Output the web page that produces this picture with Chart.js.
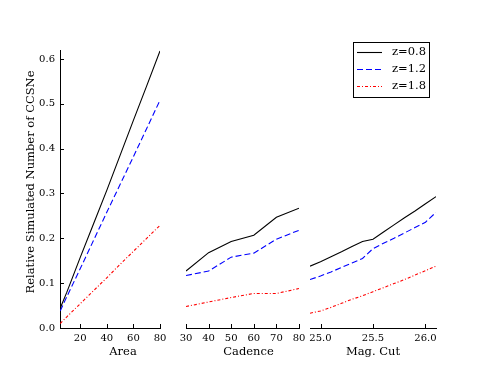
<!DOCTYPE html>
<html>
<head>
<meta charset="utf-8">
<script src="https://cdn.jsdelivr.net/npm/chart.js@4.4.1/dist/chart.umd.min.js"></script>
<style>
  html, body { margin: 0; padding: 0; background: #fff; }
  #wrap { position: relative; width: 484px; height: 366px; overflow: hidden; background: #fff; }
  #wrap canvas { position: absolute; top: 0; }
</style>
</head>
<body>
<div id="wrap">
  <canvas id="area" width="175" height="366" style="left:0px;width:175px;height:366px"></canvas>
  <canvas id="cadence" width="145" height="366" style="left:170px;width:145px;height:366px"></canvas>
  <canvas id="mag" width="189" height="366" style="left:295px;width:189px;height:366px"></canvas>
</div>
<script>
// Series labels
const seriesLabels = ['z=0.8', 'z=1.2', 'z=1.8'];

// Area panel
const areaX = [5, 10, 20, 30, 40, 50, 60, 70, 80];
const areaZ08 = [0.044, 0.080, 0.157, 0.232, 0.307, 0.385, 0.463, 0.540, 0.618];
const areaZ12 = [0.038, 0.070, 0.132, 0.195, 0.258, 0.320, 0.382, 0.445, 0.508];
const areaZ18 = [0.010, 0.025, 0.054, 0.083, 0.112, 0.142, 0.171, 0.200, 0.229];

// Cadence panel
const cadenceX = [30, 40, 50, 60, 70, 80];
const cadenceZ08 = [0.127, 0.168, 0.193, 0.207, 0.247, 0.267];
const cadenceZ12 = [0.117, 0.127, 0.158, 0.167, 0.198, 0.218];
const cadenceZ18 = [0.048, 0.058, 0.068, 0.077, 0.077, 0.088];

// Mag. Cut panel
const magX = [24.9, 25.0, 25.1, 25.2, 25.3, 25.4, 25.5, 25.6, 25.7, 25.8, 25.9, 26.0, 26.1];
const magZ08 = [0.138, 0.148, 0.159, 0.170, 0.182, 0.193, 0.198, 0.214, 0.230, 0.246, 0.261, 0.277, 0.293];
const magZ12 = [0.108, 0.116, 0.125, 0.135, 0.145, 0.155, 0.177, 0.189, 0.200, 0.212, 0.224, 0.236, 0.258];
const magZ18 = [0.033, 0.038, 0.046, 0.055, 0.064, 0.072, 0.081, 0.090, 0.099, 0.108, 0.118, 0.128, 0.138];

// Tick labels
const yTicks = [0.0, 0.1, 0.2, 0.3, 0.4, 0.5, 0.6];
const areaTicks = [20, 40, 60, 80];
const cadenceTicks = [30, 40, 50, 60, 70, 80];
const magTicks = [25.0, 25.5, 26.0];

const SERIF = "'DejaVu Serif', 'Liberation Serif', serif";
Chart.defaults.font.family = SERIF;
Chart.defaults.color = '#000';

const lineStyles = [
    { color: '#000000', dash: [] },
    { color: '#0000ff', dash: [6, 3] },
    { color: '#ff0000', dash: [3, 2, 1, 2] }
];

const makeDatasets = (xs, series) => series.map((ys, i) => ({
    label: seriesLabels[i],
    data: xs.map((x, j) => ({ x: x, y: ys[j] })),
    borderColor: lineStyles[i].color,
    borderDash: lineStyles[i].dash,
    borderWidth: 1.1,
    pointRadius: 0,
    tension: 0,
    fill: false
}));

// matplotlib-style ticks pointing into the plot
const innerTicks = {
    id: 'innerTicks',
    afterDatasetsDraw(chart) {
        const { ctx, chartArea } = chart;
        ctx.save();
        ctx.strokeStyle = '#000';
        ctx.lineWidth = 1;
        const xs = chart.scales.x;
        xs.ticks.forEach(t => {
            const px = Math.round(xs.getPixelForValue(t.value)) + 0.5;
            ctx.beginPath();
            ctx.moveTo(px, chartArea.bottom);
            ctx.lineTo(px, chartArea.bottom - 4);
            ctx.stroke();
        });
        const ys = chart.scales.y;
        if (ys.options.display) {
            ys.ticks.forEach(t => {
                const py = Math.round(ys.getPixelForValue(t.value)) + 0.5;
                ctx.beginPath();
                ctx.moveTo(chartArea.left, py);
                ctx.lineTo(chartArea.left + 4, py);
                ctx.stroke();
            });
        }
        ctx.restore();
    }
};

// axis titles placed where the reference has them
const axisTitles = {
    id: 'axisTitles',
    afterDraw(chart, args, opts) {
        const ctx = chart.ctx;
        ctx.save();
        ctx.fillStyle = '#000';
        ctx.font = '11.5px ' + SERIF;
        ctx.textAlign = 'center';
        ctx.textBaseline = 'middle';
        (opts.items || []).forEach(it => {
            ctx.save();
            ctx.translate(it.x, it.y);
            if (it.rotate) ctx.rotate(-Math.PI / 2);
            ctx.fillText(it.text, 0, 0);
            ctx.restore();
        });
        ctx.restore();
    }
};

// legend box in the upper right
const boxLegend = {
    id: 'boxLegend',
    afterDraw(chart, args, opts) {
        if (!opts.show) return;
        const ctx = chart.ctx;
        const { x, y, w, h } = opts;
        ctx.save();
        ctx.fillStyle = '#fff';
        ctx.fillRect(x, y, w, h);
        ctx.strokeStyle = '#000';
        ctx.lineWidth = 1;
        ctx.strokeRect(x + 0.5, y + 0.5, w, h);
        ctx.font = '11.5px ' + SERIF;
        ctx.textBaseline = 'middle';
        ctx.textAlign = 'left';
        seriesLabels.forEach((lab, i) => {
            const ry = y + 10.5 + i * 17;
            ctx.beginPath();
            ctx.strokeStyle = lineStyles[i].color;
            ctx.lineWidth = 1.1;
            ctx.setLineDash(lineStyles[i].dash);
            ctx.moveTo(x + 4, ry);
            ctx.lineTo(x + 29, ry);
            ctx.stroke();
            ctx.setLineDash([]);
            ctx.fillStyle = '#000';
            ctx.fillText(lab, x + 39, ry);
        });
        ctx.restore();
    }
};

const makePanel = (id, xs, series, xMin, xMax, xTicks, fmt, pad, showY, titles, legend) => {
    const ctx = document.getElementById(id).getContext('2d');
    return new Chart(ctx, {
        type: 'line',
        data: { datasets: makeDatasets(xs, series) },
        options: {
            responsive: false,
            animation: false,
            layout: { padding: { top: 50, bottom: 0, left: pad.left, right: pad.right } },
            scales: {
                x: {
                    type: 'linear',
                    min: xMin,
                    max: xMax,
                    afterBuildTicks: (s) => { s.ticks = xTicks.map(v => ({ value: v })); },
                    afterFit: (s) => { s.height = 38; },
                    grid: { display: false, drawTicks: false },
                    border: { display: true, color: '#000', width: 1 },
                    ticks: {
                        padding: 4,
                        maxRotation: 0,
                        autoSkip: false,
                        font: { size: 10 },
                        callback: fmt
                    }
                },
                y: {
                    display: showY,
                    min: 0,
                    max: 0.62,
                    afterBuildTicks: (s) => { s.ticks = yTicks.map(v => ({ value: v })); },
                    afterFit: (s) => { if (showY) s.width = 60; },
                    grid: { display: false, drawTicks: false },
                    border: { display: true, color: '#000', width: 1 },
                    ticks: {
                        padding: 5,
                        font: { size: 10 },
                        callback: (v) => v.toFixed(1)
                    }
                }
            },
            plugins: {
                legend: { display: false },
                tooltip: { enabled: false },
                axisTitles: { items: titles },
                boxLegend: legend || { show: false }
            }
        },
        plugins: [innerTicks, axisTitles, boxLegend]
    });
};

makePanel('area', areaX, [areaZ08, areaZ12, areaZ18], 4.85, 80, areaTicks,
    (v) => String(v), { left: 0, right: 15 }, true,
    [{ text: 'Area', x: 123, y: 352 },
     { text: 'Relative Simulated Number of CCSNe', x: 31, y: 182, rotate: true }]);

makePanel('cadence', cadenceX, [cadenceZ08, cadenceZ12, cadenceZ18], 30, 80, cadenceTicks,
    (v) => String(v), { left: 16, right: 16 }, false,
    [{ text: 'Cadence', x: 248.5 - 170, y: 352 }]);

makePanel('mag', magX, [magZ08, magZ12, magZ18], 24.9, 26.1, magTicks,
    (v) => v.toFixed(1), { left: 15, right: 48 }, false,
    [{ text: 'Mag. Cut', x: 373 - 295, y: 352 }],
    { show: true, x: 58, y: 42, w: 76, h: 55 });
</script>
</body>
</html>
